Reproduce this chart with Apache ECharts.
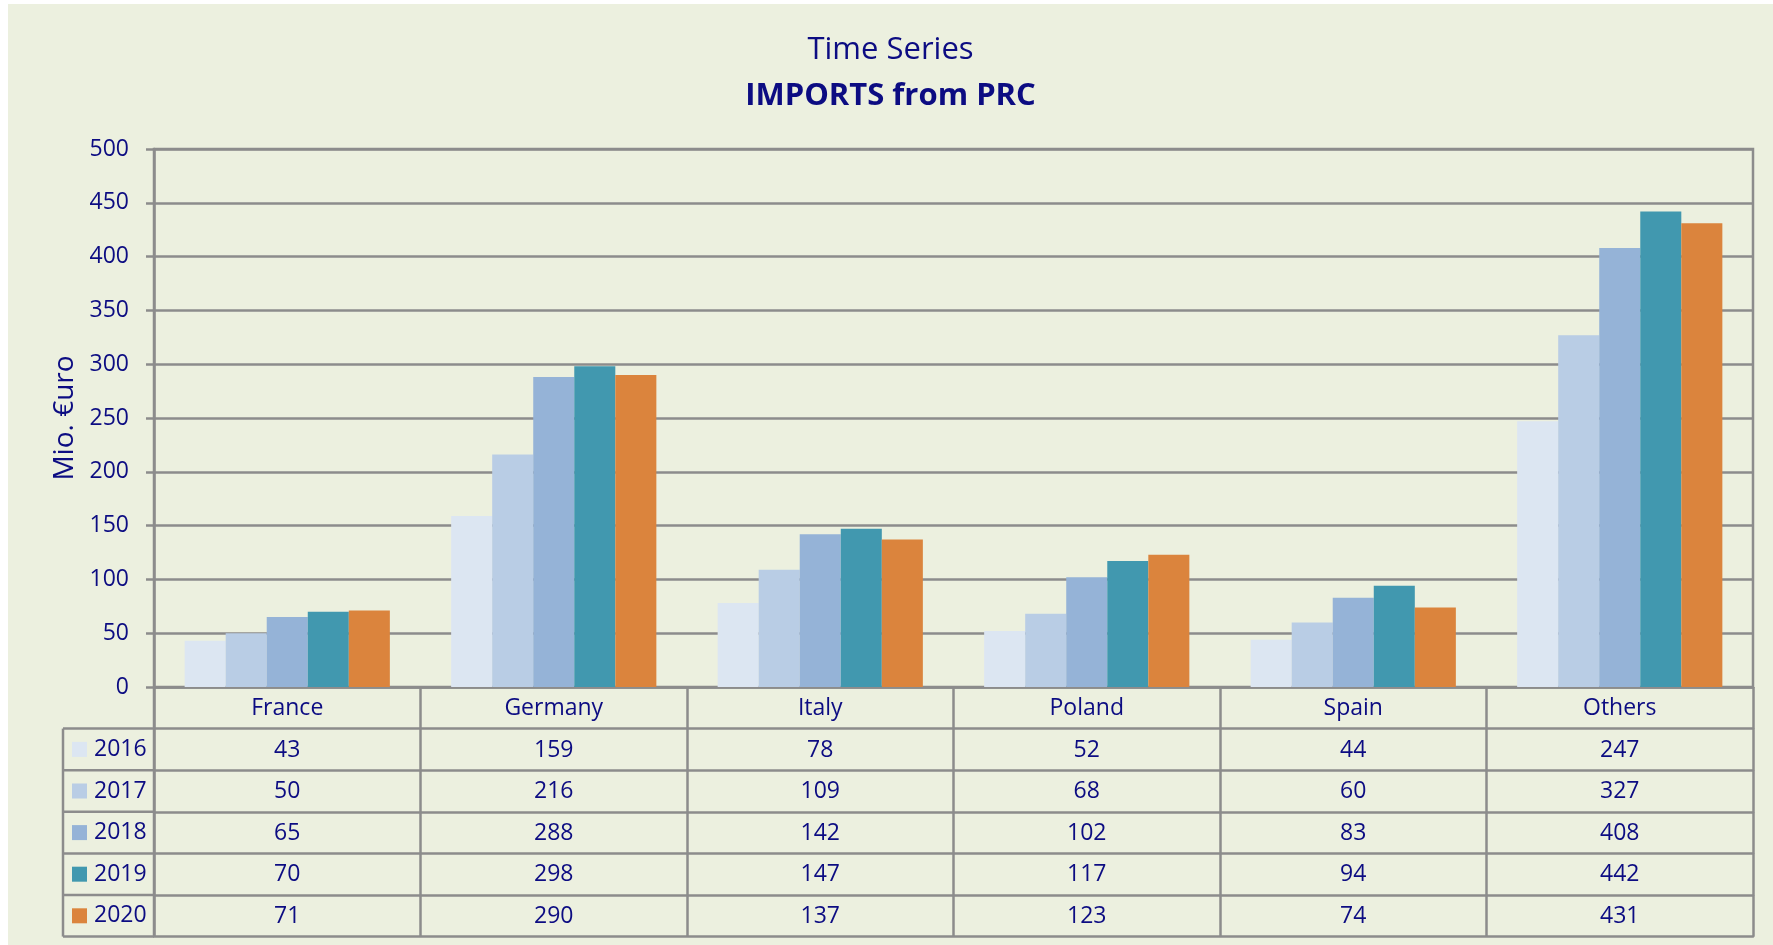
<!DOCTYPE html>
<html>
<head>
<meta charset="utf-8">
<title>IMPORTS from PRC</title>
<script src="https://cdn.jsdelivr.net/npm/echarts@6/dist/echarts.min.js"></script>
<style>
    html, body { margin: 0; padding: 0; background: #ffffff; }
    #chart { position: absolute; left: 8px; top: 4px; width: 1765px; height: 941px; background: #ecf0df; }
</style>
</head>
<body>
<div id="chart"></div>
<script>
(function (window, echarts) {
    'use strict';

    const countries = ['France', 'Germany', 'Italy', 'Poland', 'Spain', 'Others'];
    const years = ['2016', '2017', '2018', '2019', '2020'];

    const values2016 = [43, 159, 78, 52, 44, 247];
    const values2017 = [50, 216, 109, 68, 60, 327];
    const values2018 = [65, 288, 142, 102, 83, 408];
    const values2019 = [70, 298, 147, 117, 94, 442];
    const values2020 = [71, 290, 137, 123, 74, 431];

    const yTicks = { min: 0, max: 500, step: 50 };

    const seriesValues = [values2016, values2017, values2018, values2019, values2020];
    const colors = ['#dce6f2', '#b9cde5', '#95b3d7', '#4198af', '#db843d'];

    const navy = '#0c0c82';
    const gray = '#8c8c8c';
    const font = "'Open Sans', 'DejaVu Sans', sans-serif";

    // layout (pixels inside the chart div)
    const gridLeft = 146;
    const gridTop = 145;
    const gridRight = 20;
    const gridBottom = 258;
    const rowH = 41.6;
    const tableTop = 945 - 4 - gridBottom; // y of the category axis line
    const legendLeft = 55;

    const chart = echarts.init(document.getElementById('chart'), null, { renderer: 'canvas' });

    // one x axis per table row: names first, then one per year, then the closing line
    const xAxes = [];
    xAxes.push({
        type: 'category',
        data: countries,
        position: 'bottom',
        offset: 0,
        axisLine: { show: true, lineStyle: { color: gray, width: 2.5 } },
        axisTick: { show: true, interval: 0, length: rowH, lineStyle: { color: gray, width: 2.5 } },
        axisLabel: { interval: 0, margin: 10, color: navy, fontSize: 23, fontFamily: font }
    });
    seriesValues.forEach((vals, k) => {
        xAxes.push({
            type: 'category',
            data: countries,
            position: 'bottom',
            offset: rowH * (k + 1),
            axisLine: { show: true, lineStyle: { color: gray, width: 2.5 } },
            axisTick: { show: true, interval: 0, length: rowH, lineStyle: { color: gray, width: 2.5 } },
            axisLabel: {
                interval: 0, margin: 10, color: navy, fontSize: 23, fontFamily: font,
                formatter: (v, idx) => String(vals[idx])
            }
        });
    });
    xAxes.push({
        type: 'category',
        data: countries,
        position: 'bottom',
        offset: rowH * (seriesValues.length + 1),
        axisLine: { show: true, lineStyle: { color: gray, width: 2.5 } },
        axisTick: { show: false },
        axisLabel: { show: false }
    });

    // frame of the legend column left of the table
    const frame = [];
    const rows = seriesValues.length;
    frame.push({
        type: 'line',
        shape: { x1: legendLeft, y1: tableTop + rowH, x2: legendLeft, y2: tableTop + rowH * (rows + 1) },
        style: { stroke: gray, lineWidth: 2.5 }
    });
    for (let i = 1; i <= rows + 1; i++) {
        frame.push({
            type: 'line',
            shape: { x1: legendLeft, y1: tableTop + rowH * i, x2: gridLeft, y2: tableTop + rowH * i },
            style: { stroke: gray, lineWidth: 2.5 }
        });
    }
    frame.push({
        type: 'line',
        shape: { x1: gridLeft, y1: tableTop, x2: gridLeft, y2: tableTop + rowH * (rows + 1) },
        style: { stroke: gray, lineWidth: 2.5 }
    });

    const options = {
        backgroundColor: 'transparent',
        animation: false,
        title: [
            {
                text: 'Time Series',
                left: 'center',
                top: 31,
                padding: 0,
                textStyle: { color: navy, fontSize: 31, fontWeight: 'normal', fontFamily: font }
            },
            {
                text: 'IMPORTS from PRC',
                left: 'center',
                top: 77,
                padding: 0,
                textStyle: { color: navy, fontSize: 31, fontWeight: 'bold', fontFamily: font }
            }
        ],
        legend: {
            orient: 'vertical',
            left: legendLeft + 9,
            top: tableTop + rowH * 1.5 - 11.5,
            itemWidth: 15,
            itemHeight: 15,
            itemGap: rowH - 23,
            icon: 'rect',
            selectedMode: false,
            padding: 0,
            data: years,
            textStyle: { color: navy, fontSize: 23, fontFamily: font, padding: [0, 0, 0, 2] }
        },
        grid: {
            left: gridLeft,
            right: gridRight,
            top: gridTop,
            bottom: gridBottom,
            show: true,
            borderColor: gray,
            borderWidth: 2.5,
            backgroundColor: 'transparent'
        },
        xAxis: xAxes,
        yAxis: {
            type: 'value',
            min: yTicks.min,
            max: yTicks.max,
            interval: yTicks.step,
            name: 'Mio. €uro',
            nameLocation: 'middle',
            nameGap: 74,
            nameTextStyle: { color: navy, fontSize: 28, fontFamily: font },
            axisLine: { show: true, lineStyle: { color: gray, width: 2.5 } },
            axisTick: { show: true, length: 8, lineStyle: { color: gray, width: 2.5 } },
            axisLabel: { color: navy, fontSize: 23, fontFamily: font, margin: 25 },
            splitLine: { show: true, lineStyle: { color: gray, width: 2.5 } }
        },
        graphic: frame,
        series: seriesValues.map((vals, k) => ({
            name: years[k],
            type: 'bar',
            xAxisIndex: 0,
            data: vals,
            barGap: '0%',
            barCategoryGap: '23%',
            itemStyle: { color: colors[k] },
            z: 1
        }))
    };

    chart.setOption(options);

    window.addEventListener('resize', () => chart.resize());

})(window, echarts);
</script>
</body>
</html>
